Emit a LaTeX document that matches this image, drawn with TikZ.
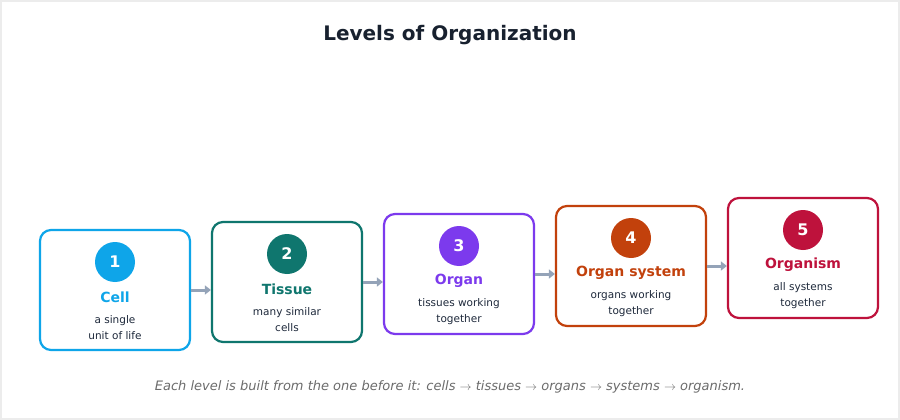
\documentclass[tikz,border=0pt]{standalone}
\usepackage{fontspec}
\setmainfont{DejaVu Sans}
\usetikzlibrary{arrows.meta}
\definecolor{c1}{HTML}{0EA5E9}
\definecolor{c2}{HTML}{0F766E}
\definecolor{c3}{HTML}{7C3AED}
\definecolor{c4}{HTML}{C2410C}
\definecolor{c5}{HTML}{BE123C}
\definecolor{txt}{HTML}{1E293B}
\definecolor{arr}{HTML}{94A3B8}
\begin{document}
\begin{tikzpicture}[x=1pt,y=-1pt,
  box/.style={draw=#1,line width=2.2pt,rounded corners=11pt,minimum width=150pt,minimum height=120pt,fill=white},
  num/.style={circle,fill=#1,minimum size=40pt,inner sep=0pt,text=white,font=\fontsize{16}{16}\selectfont\bfseries},
  ttl/.style={text=#1,font=\fontsize{14}{14}\selectfont\bfseries},
  desc/.style={text=txt,font=\fontsize{10.5}{16}\selectfont,align=center},
  con/.style={draw=arr,line width=3pt,-{Triangle[length=6pt,width=9pt]}}]
\draw[draw=gray!15,line width=1.5pt,fill=white] (1,1) rectangle (899,419);
\useasboundingbox (0,0) rectangle (900,420);
\node[font=\fontsize{20}{20}\selectfont\bfseries,text=txt!80!black] at (450,35) {Levels of Organization};
\foreach \i/\x/\y/\n/\a/\b in {1/115/290/Cell/a single/unit of life,2/287/282/Tissue/many similar/cells,3/459/274/Organ/tissues working/together,4/631/266/Organ system/organs working/together,5/803/258/Organism/all systems/together}{
  \node[box=c\i] (b\i) at (\x,\y) {};
  \node[num=c\i] (n\i) at (\x,\y-28) {\i};
  \node[ttl=c\i] (t\i) at (\x,\y+7) {\n};
  \node[desc] (d\i) at (\x,\y+38) {\a\\\b};
}
\foreach \i/\j in {1/2,2/3,3/4,4/5}{
  \draw[con] (b\i.east) -- (b\j.west |- b\i.east);
}
\node[font=\fontsize{13}{13}\selectfont\itshape,text=gray!85!black] at (450,387) {Each level is built from the one before it: cells $\rightarrow$ tissues $\rightarrow$ organs $\rightarrow$ systems $\rightarrow$ organism.};
\end{tikzpicture}
\end{document}
